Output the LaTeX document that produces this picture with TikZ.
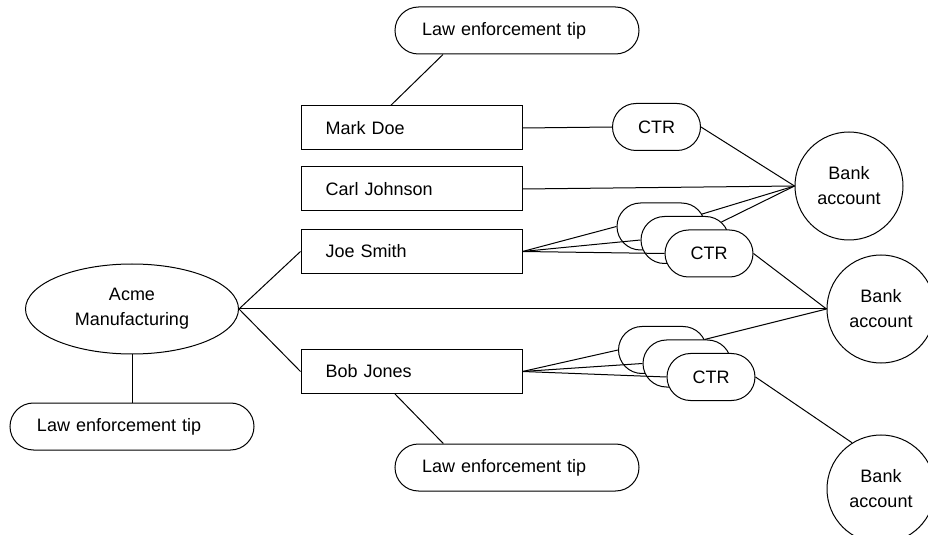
\documentclass[tikz,border=0pt]{standalone}
\usepackage{fontspec}
\setmainfont{Liberation Sans}
\usetikzlibrary{shapes.geometric, shapes.misc}

\begin{document}
\begin{tikzpicture}[x=0.5pt, y=-0.5pt, line width=0.5pt,
    every node/.style={font=\fontsize{9}{12.5}\selectfont},
    person/.style={draw, fill=white, text width=85.9pt, inner xsep=12.3pt, minimum height=22pt, align=left},
    tipbox/.style={draw, fill=white, rounded corners=11.75pt, text width=95pt, inner xsep=13.5pt, minimum height=23.5pt, align=left},
    ctr/.style={draw, fill=white, rounded rectangle, minimum width=46pt, minimum height=23.5pt, inner sep=1pt},
    bank/.style={draw, fill=white, circle, minimum size=54pt, inner sep=0pt, align=center}]
    \clip (0,0) rectangle (928,535);
    % Firma
    \node[draw, ellipse, minimum width=106.5pt, minimum height=45pt, inner sep=0pt, align=center] (acme) at (132,309) {Acme\\Manufacturing};
    % Pessoas
    \node[person] (mark) at (411.5,128) {Mark Doe};
    \node[person] (carl) at (411.5,189) {Carl Johnson};
    \node[person] (joe) at (411.5,251.5) {Joe Smith};
    \node[person] (bob) at (411.5,371.5) {Bob Jones};
    % Dicas
    \node[tipbox] (toptip) at (517,30.5) {Law enforcement tip};
    \node[tipbox] (lefttip) at (132,426.5) {Law enforcement tip};
    \node[tipbox] (bobtip) at (517,467.5) {Law enforcement tip};
    % Contas
    \node[bank] (bank1) at (849,186) {Bank\\account};
    \node[bank] (bank2) at (881,309) {Bank\\account};
    \node[bank] (bank3) at (881,489) {Bank\\account};
    % CTRs
    \node[ctr] (ctrmark) at (656.5,127) {CTR};
    \foreach \n/\x/\y/\t in {joea/661/226.5/{}, joeb/685/240/{}, joec/709/253.5/CTR,
                             boba/662.5/350/{}, bobb/687/363.5/{}, bobc/711/377/CTR}{
        \node[ctr] (ctr\n) at (\x,\y) {\t};
    }
    % Ligacoes
    \draw ([xshift=-37pt]toptip.south) -- ([xshift=-10.4pt]mark.north);
    \draw ([xshift=-8.25pt]bob.south) -- ([xshift=-36.85pt]bobtip.north);
    \draw (acme.south) -- (lefttip.north);
    \draw (acme.east) -- (joe.west);
    \draw (acme.east) -- (bob.west);
    \draw (acme.east) -- (bank2.west);
    \draw (mark.east) -- (ctrmark.west);
    \draw (ctrmark.east) -- (bank1.west);
    \draw (carl.east) -- (bank1.west);
    \foreach \c in {joea,joeb,joec}{
        \draw (joe.east) -- (ctr\c.west);
    }
    \foreach \c in {boba,bobb,bobc}{
        \draw (bob.east) -- (ctr\c.west);
    }
    \draw (ctrjoea) -- (bank1.west);
    \draw (ctrjoeb) -- (bank1.west);
    \draw (ctrjoec.east) -- (bank2.west);
    \draw (ctrboba) -- (bank2.west);
    \draw (ctrbobc.east) -- (bank3.122);
\end{tikzpicture}
\end{document}
